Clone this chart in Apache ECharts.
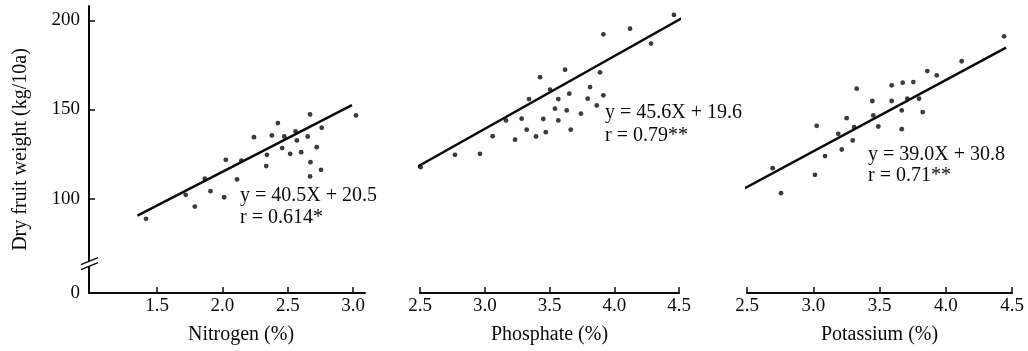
<!DOCTYPE html>
<html><head><meta charset="utf-8">
<script src="https://cdn.jsdelivr.net/npm/echarts@6/dist/echarts.min.js"></script>
<style>html,body{margin:0;padding:0;background:#fff}#c{width:1028px;height:351px}</style>
</head><body><div id="c"></div>
<script>
// ---- data ----
const yTickValues = [0, 100, 150, 200];
const nitrogenTicks = [1.5, 2.0, 2.5, 3.0];
const phosphateTicks = [2.5, 3.0, 3.5, 4.0, 4.5];
const potassiumTicks = [2.5, 3.0, 3.5, 4.0, 4.5];
const xTitles = ['Nitrogen (%)', 'Phosphate (%)', 'Potassium (%)'];
const yTitle = 'Dry fruit weight (kg/10a)';

const nitrogenPoints = [
  [1.416, 88.6], [1.719, 102.1], [1.789, 95.5], [1.866, 111.1], [1.909, 104.1],
  [2.013, 100.7], [2.026, 121.7], [2.112, 110.7], [2.145, 121.3], [2.241, 134.4],
  [2.340, 124.5], [2.335, 118.2], [2.378, 135.4], [2.424, 142.3], [2.457, 128.3],
  [2.473, 134.8], [2.518, 125.1], [2.559, 137.6], [2.569, 132.6], [2.602, 126.0],
  [2.652, 134.8], [2.670, 147.2], [2.673, 120.4], [2.670, 112.4], [2.721, 128.8],
  [2.759, 139.7], [2.754, 116.1], [3.021, 146.6]
];
const phosphatePoints = [
  [2.505, 117.6], [2.770, 124.5], [2.963, 125.1], [3.061, 135.0], [3.164, 143.8],
  [3.234, 133.0], [3.285, 144.8], [3.324, 138.6], [3.342, 155.8], [3.396, 134.8],
  [3.427, 168.1], [3.452, 144.6], [3.471, 137.2], [3.504, 161.1], [3.568, 155.8],
  [3.542, 150.4], [3.568, 143.8], [3.620, 172.3], [3.633, 149.4], [3.653, 158.8],
  [3.664, 138.6], [3.743, 147.6], [3.795, 156.0], [3.813, 162.5], [3.865, 152.2],
  [3.890, 170.8], [3.916, 192.1], [3.916, 157.9], [4.122, 195.3], [4.284, 186.9],
  [4.461, 203.0]
];
const potassiumPoints = [
  [2.447, 98.5], [2.694, 117.0], [2.757, 103.0], [3.013, 113.3], [3.026, 140.8],
  [3.089, 123.8], [3.189, 136.3], [3.215, 127.5], [3.252, 145.1], [3.298, 132.6],
  [3.308, 140.1], [3.328, 161.6], [3.446, 154.7], [3.453, 146.6], [3.491, 140.4],
  [3.592, 163.5], [3.592, 154.7], [3.668, 149.4], [3.668, 138.9], [3.675, 165.0],
  [3.710, 156.0], [3.755, 165.3], [3.798, 156.0], [3.826, 148.5], [3.861, 171.5],
  [3.932, 169.1], [4.120, 177.0], [4.440, 191.0]
];
// regression lines as drawn (endpoints)
const nitrogenLine = [[1.35, 90.4], [2.99, 152.4]];
const phosphateLine = [[2.384, 113.9], [4.529, 201.5]];
const potassiumLine = [[2.442, 104.1], [4.455, 184.7]];
const equations = [
  ['y = 40.5X + 20.5', 'r = 0.614*'],
  ['y = 45.6X + 19.6', 'r = 0.79**'],
  ['y = 39.0X + 30.8', 'r = 0.71**']
];

// ---- chart ----
const FONT = "'Liberation Serif', 'DejaVu Serif', serif";
const INK = '#0a0a0a';
const chart = echarts.init(document.getElementById('c'), null, {renderer: 'canvas'});

const grids = [
  {left: 89, top: 6, width: 276, bottom: 58},
  {left: 420, top: 6, width: 259, bottom: 58},
  {left: 747, top: 6, width: 265, bottom: 58}
];
const xRanges = [[0.98, 3.09], [2.5, 4.5], [2.5, 4.5]];
const xTicks = [nitrogenTicks, phosphateTicks, potassiumTicks];
const namePads = [[0, 0, 0, 28], [0, 0, 0, 0], [0, 0, 0, 0]];

const xAxes = grids.map((g, i) => ({
  type: 'value', gridIndex: i, min: xRanges[i][0], max: xRanges[i][1],
  name: xTitles[i], nameLocation: 'middle', nameGap: 32,
  nameTextStyle: {fontFamily: FONT, fontSize: 20, color: INK, padding: namePads[i]},
  axisLine: {show: true, onZero: false, lineStyle: {color: INK, width: 2}},
  axisTick: {show: true, inside: true, length: 6, customValues: xTicks[i], lineStyle: {color: INK, width: 1.5}},
  axisLabel: {customValues: xTicks[i], margin: 4, fontFamily: FONT, fontSize: 19, color: INK,
    formatter: v => Number(v).toFixed(1)},
  splitLine: {show: false}
}));

const yAxes = grids.map((g, i) => ({
  type: 'value', gridIndex: i, min: 0, max: 208, interval: 50,
  show: i === 0,
  breaks: [{start: 10, end: 70, gap: 13}],
  breakArea: {show: false},
  name: i === 0 ? yTitle : '', nameLocation: 'middle', nameGap: 58,
  nameTextStyle: {fontFamily: FONT, fontSize: 20, color: INK},
  axisLine: {show: true, lineStyle: {color: INK, width: 2}},
  axisTick: {show: true, inside: true, length: 6, customValues: [100, 150, 200], lineStyle: {color: INK, width: 1.5}},
  axisLabel: {customValues: yTickValues, margin: 9, fontFamily: FONT, fontSize: 19, color: INK},
  splitLine: {show: false}
}));

const pts = [nitrogenPoints, phosphatePoints, potassiumPoints];
const lines = [nitrogenLine, phosphateLine, potassiumLine];
const series = [];
pts.forEach((p, i) => {
  series.push({type: 'scatter', xAxisIndex: i, yAxisIndex: i, data: p, symbolSize: 4.8,
    itemStyle: {color: INK}, silent: true});
  series.push({type: 'line', xAxisIndex: i, yAxisIndex: i, data: lines[i], symbol: 'none',
    lineStyle: {color: INK, width: 2.5}, silent: true});
});

const eqPos = [[240, 196, 218], [605, 113, 136], [868, 155, 176]];
const graphic = [];
equations.forEach((e, i) => {
  [0, 1].forEach(k => graphic.push({type: 'text', left: eqPos[i][0], top: eqPos[i][1 + k] - 10,
    style: {text: e[k], font: `20px ${FONT}`, fill: INK}}));
});

chart.setOption({
  backgroundColor: '#fff', animation: false,
  grid: grids, xAxis: xAxes, yAxis: yAxes, series: series, graphic: graphic
});

// axis break marker "//" on the first y axis (axis line kept continuous around it)
const yA = chart.convertToPixel({yAxisIndex: 0}, 10);
const yB = chart.convertToPixel({yAxisIndex: 0}, 70);
const ym = (yA + yB) / 2;
const ax = 89;
graphic.push(
  {type: 'line', shape: {x1: ax, y1: yB - 1, x2: ax, y2: yA + 1}, style: {stroke: INK, lineWidth: 2}, z: 99},
  {type: 'rect', shape: {x: ax - 3, y: ym - 2.5, width: 6, height: 5}, style: {fill: '#fff'}, z: 100},
  {type: 'line', shape: {x1: ax - 8, y1: ym + 1, x2: ax + 9, y2: ym - 6}, style: {stroke: INK, lineWidth: 1.5}, z: 101},
  {type: 'line', shape: {x1: ax - 8, y1: ym + 6, x2: ax + 9, y2: ym - 1}, style: {stroke: INK, lineWidth: 1.5}, z: 101}
);
chart.setOption({graphic: graphic});
</script></body></html>
